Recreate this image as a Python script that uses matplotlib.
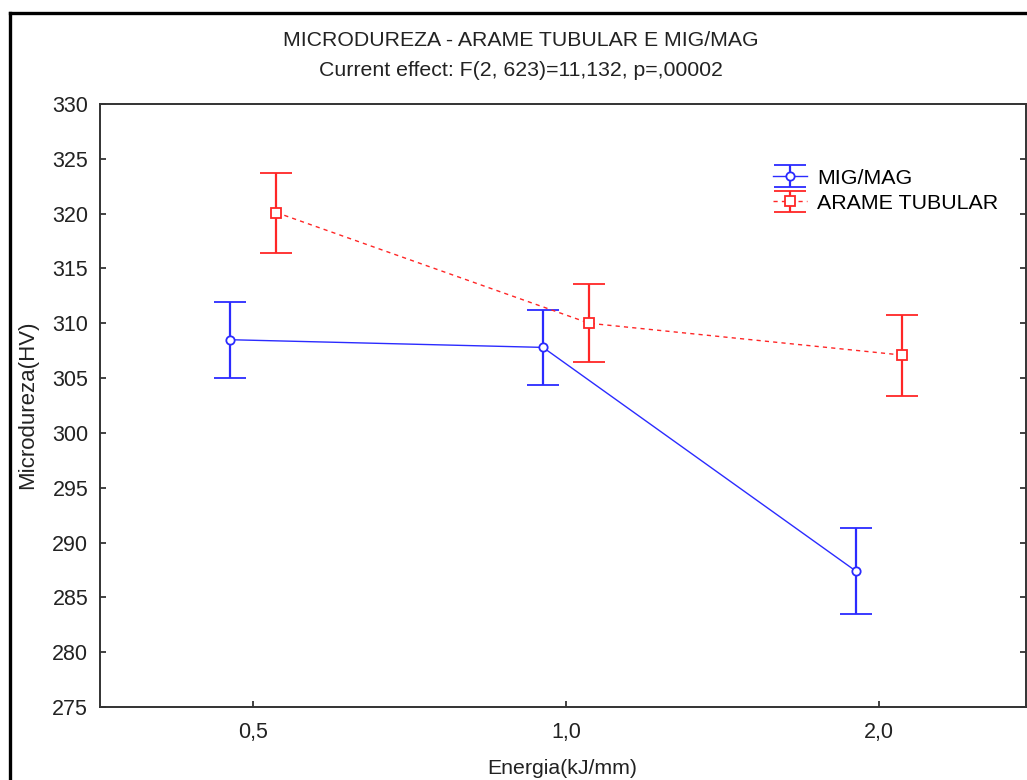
import numpy as np
import matplotlib
matplotlib.use("Agg")
import matplotlib.pyplot as plt
from matplotlib.lines import Line2D

plt.rcParams['font.family'] = ['Liberation Sans', 'DejaVu Sans']

# data
energia = ['0,5', '1,0', '2,0']
mig_mean = [308.5, 307.8, 287.4]
mig_err = [3.45, 3.4, 3.9]
arame_mean = [320.1, 310.0, 307.1]
arame_err = [3.65, 3.55, 3.7]
yticks = np.arange(275, 331, 5)

blue = '#2b2bff'
red = '#ff2626'

W, H = 1027, 780
fig = plt.figure(figsize=(W / 100, H / 100), dpi=100)
ax = fig.add_axes([100 / W, 1 - 707 / H, 926 / W, 603 / H])

x = np.arange(len(energia))
off = 0.074

ax.errorbar(x - off, mig_mean, yerr=mig_err, color=blue, lw=1.0,
            elinewidth=1.6, capsize=11.5, capthick=1.6,
            marker='o', ms=6, mfc='white', mec=blue, mew=1.3,
            label='MIG/MAG')
ax.errorbar(x + off, arame_mean, yerr=arame_err, color=red, lw=1.0,
            ls=(0, (3, 3)), elinewidth=1.6, capsize=11.5, capthick=1.6,
            marker='s', ms=7, mfc='white', mec=red, mew=1.3,
            label='ARAME TUBULAR')

ax.set_xlim(-0.49, 2.47)
ax.set_ylim(275, 330)
ax.set_xticks(x)
ax.set_xticklabels(energia)
ax.set_yticks(yticks)
ax.tick_params(direction='in', length=4, width=1.2, labelsize=15.5,
               colors='#222222', right=True)
ax.tick_params(axis='x', pad=11)
ax.tick_params(axis='y', pad=8.5)
for s in ax.spines.values():
    s.set_linewidth(1.4)
    s.set_color('#333333')

ax.set_xlabel('Energia(kJ/mm)', fontsize=15.3, color='#222222')
ax.set_ylabel('Microdureza(HV)', fontsize=16, color='#222222')
ax.xaxis.set_label_coords((562 - 100) / 926, -(768 - 707) / 603)
ax.yaxis.set_label_coords(-(100 - 28) / 926, (707 - 405) / 603)
ax.xaxis.label.set_va('center')
ax.yaxis.label.set_va('center')

fig.text(521 / W, 1 - 40 / H,
         'MICRODUREZA - ARAME TUBULAR E MIG/MAG',
         ha='center', va='center', fontsize=15.3, color='#222222')
fig.text(521 / W, 1 - 71 / H,
         'Current effect: F(2, 623)=11,132, p=,00002',
         ha='center', va='center', fontsize=15.3, color='#222222')

leg = ax.legend(loc='upper left', bbox_to_anchor=(664 / 926, 1 - 56 / 603),
                frameon=False, fontsize=15.4, handlelength=1.6,
                handletextpad=0.5, labelspacing=0.3, borderaxespad=0)

# outer frame (cropped at right and bottom)
fig.add_artist(Line2D([10 / W, 10 / W], [1 - 13 / H, 0], color='black',
                      lw=2.4, transform=fig.transFigure))
fig.add_artist(Line2D([10 / W, 1], [1 - 13 / H, 1 - 13 / H], color='black',
                      lw=2.4, transform=fig.transFigure))

fig.savefig('out.png', dpi=100)
